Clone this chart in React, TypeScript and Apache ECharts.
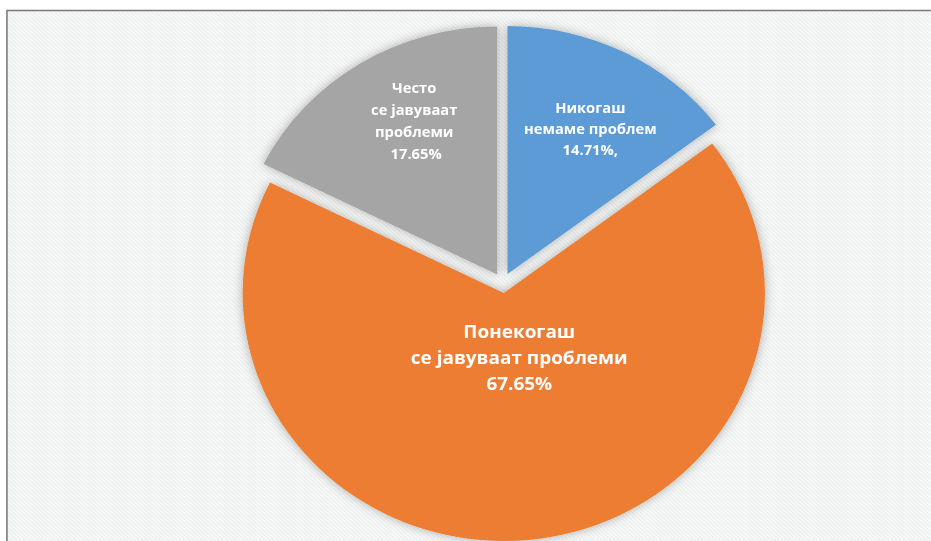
import React, { useEffect, useRef } from "react";
import * as echarts from "echarts";

const categories = [
  "Никогаш немаме проблем",
  "Понекогаш се јавуваат проблеми",
  "Често се јавуваат проблеми",
];
const values = [14.71, 67.65, 17.65];
const labelTexts = [
  "Никогаш\nнемаме проблем\n14.71%,",
  "Понекогаш\nсе јавуваат проблеми\n67.65%",
  "Често\nсе јавуваат\nпроблеми\n 17.65%",
];
const colors = ["#5b9bd5", "#ed7d31", "#a5a5a5"];

const STRETCH = 1.053;
const W = 884;
const H = 541;
const labelShift = [
  [22, -32],
  [3, -63],
  [-12, -46],
];
const labelFont = [
  { fontSize: 14, lineHeight: 21 },
  { fontSize: 18, lineHeight: 26 },
  { fontSize: 14, lineHeight: 22 },
];

function makeStripes(): HTMLCanvasElement {
  const c = document.createElement("canvas");
  c.width = 8;
  c.height = 8;
  const ctx = c.getContext("2d")!;
  ctx.fillStyle = "#fbfcfc";
  ctx.fillRect(0, 0, 8, 8);
  ctx.strokeStyle = "#eceeee";
  ctx.lineWidth = 1.6;
  for (let k = -8; k <= 16; k += 4) {
    ctx.beginPath();
    ctx.moveTo(k, 0);
    ctx.lineTo(k + 8, 8);
    ctx.stroke();
  }
  return c;
}

export default function App() {
  const ref = useRef<HTMLDivElement>(null);
  useEffect(() => {
    document.body.style.margin = "0";
    const chart = echarts.init(ref.current!, undefined, { renderer: "svg" });
    let fill: any = "#f6f7f7";
    try {
      fill = { image: makeStripes().toDataURL(), repeat: "repeat" };
    } catch (e) {
      fill = "#f6f7f7";
    }
    chart.setOption({
      animation: false,
      backgroundColor: "#ffffff",
      graphic: [
        {
          type: "rect",
          z: -10,
          shape: { x: 6.6, y: 10.5, width: 1000, height: 1000 },
          style: { fill, stroke: "#7a7a7a", lineWidth: 1.5 },
          silent: true,
        },
      ],
      series: [
        {
          type: "pie",
          center: [477.5, 283],
          radius: 248,
          startAngle: 90,
          clockwise: true,
          selectedMode: "multiple",
          selectedOffset: 10,
          emphasis: { disabled: true },
          itemStyle: {
            shadowBlur: 10,
            shadowColor: "rgba(0,0,0,0.3)",
          },
          label: {
            show: true,
            position: "inside",
            color: "#ffffff",
            fontFamily: "Open Sans",
            fontWeight: "bold",
            align: "center",
          },
          labelLine: { show: false },
          labelLayout: (params: any) => ({
            dx: labelShift[params.dataIndex][0],
            dy: labelShift[params.dataIndex][1],
          }),
          data: categories.map((name, i) => ({
            name,
            value: values[i],
            selected: true,
            itemStyle: { color: colors[i] },
            label: { formatter: labelTexts[i], ...labelFont[i] },
          })),
        },
      ],
    });
    return () => chart.dispose();
  }, []);
  return (
    <div style={{ position: "absolute", left: 0, top: 0, width: 931, height: 541, overflow: "hidden", background: "#fff" }}>
      <div
        ref={ref}
        style={{
          width: W,
          height: H,
          transform: `scaleX(${STRETCH})`,
          transformOrigin: "0 0",
        }}
      />
    </div>
  );
}
